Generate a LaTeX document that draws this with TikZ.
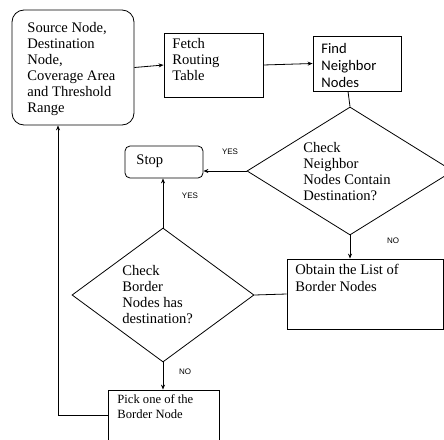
\documentclass[tikz,border=0pt]{standalone}
\usepackage{fontspec}
\setmainfont{Liberation Serif}
\newfontfamily\calfont{Carlito}
\newfontfamily\arfont{Liberation Sans}
\usetikzlibrary{shapes.geometric,arrows.meta}
\begin{document}
\begin{tikzpicture}[x=1pt,y=-1pt,
  line width=0.8pt,
  shapebox/.style={draw,inner sep=0pt,rectangle},
  dia/.style={draw,inner sep=0pt,diamond},
  arr/.style={-{Stealth[length=5pt,width=4pt]}},
  txt/.style={anchor=north west,inner sep=0pt,align=left,font=\fontsize{14.6}{16}\selectfont},
  stxt/.style={anchor=north west,inner sep=0pt,align=left,font=\calfont\fontsize{14.6}{17}\selectfont},
  ptxt/.style={anchor=north west,inner sep=0pt,align=left,font=\fontsize{12.6}{14.5}\selectfont},
  lab/.style={inner sep=0pt,font=\arfont\fontsize{8}{9}\selectfont}]
\useasboundingbox (0,0) rectangle (444,439);
\clip (0,0) rectangle (444,439);
% shapes
\node[shapebox,rounded corners=12pt,minimum width=122pt,minimum height=115pt] (src) at (73,67.5) {};
\node[shapebox,minimum width=99pt,minimum height=64pt] (fetch) at (213.5,65) {};
\node[shapebox,minimum width=88pt,minimum height=55pt] (find) at (357,63.5) {};
\node[dia,minimum width=206pt,minimum height=128pt] (d1) at (350,171) {};
\node[shapebox,rounded corners=5pt,minimum width=78pt,minimum height=32pt] (stop) at (164,162) {};
\node[dia,minimum width=182pt,minimum height=134pt] (d2) at (163,295) {};
\node[shapebox,minimum width=156pt,minimum height=70pt] (obt) at (365,294) {};
\node[shapebox,minimum width=111pt,minimum height=60pt] (pick) at (163.5,420) {};
% texts
\node[txt] (tsrc) at (27,22) {Source Node,\\Destination\\Node,\\Coverage Area\\and Threshold\\Range};
\node[txt] (tfetch) at (172,38) {Fetch\\Routing\\Table};
\node[stxt] (tfind) at (321,43) {Find\\Neighbor\\Nodes};
\node[txt] (td1) at (303,142) {Check\\Neighbor\\Nodes Contain\\Destination?};
\node[txt] (tstop) at (136,154) {Stop};
\node[txt] (td2) at (122,265) {Check\\Border\\Nodes has\\destination?};
\node[txt,font=\fontsize{14.6}{17}\selectfont] (tobt) at (295,264) {Obtain the List of\\Border Nodes};
\node[ptxt] (tpick) at (117,394.5) {Pick one of the\\Border Node};
% labels
\node[lab] (yes1) at (230,152) {YES};
\node[lab] (yes2) at (190,196) {YES};
\node[lab] (no1) at (393,241) {NO};
\node[lab] (no2) at (185,372) {NO};
% connectors
\coordinate (loop) at (58,415);
\draw[arr] (src.east) -- (fetch.west);
\draw[arr] (fetch.east) -- (find.west);
\draw ([xshift=-9pt]find.south) -- (d1.north);
\draw[arr] (d1.west) -- (d1.west -| stop.east);
\draw[arr] (d2.north) -- (d2.north |- stop.south);
\draw[arr] (d1.south) -- (d1.south |- obt.north);
\draw (obt.west) -- (d2.east);
\draw[arr] (d2.south) -- (d2.south |- pick.north);
\draw[arr] (loop -| pick.west) -- (loop) -- (loop |- src.south);
\end{tikzpicture}
\end{document}
